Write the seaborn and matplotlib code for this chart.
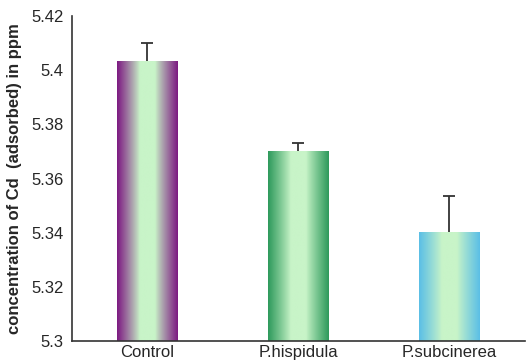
import numpy as np
import pandas as pd
import seaborn as sns
import matplotlib
matplotlib.use("Agg")
import matplotlib.pyplot as plt
from matplotlib.colors import LinearSegmentedColormap

# data
categories = ["Control", "P.hispidula", "P.subcinerea"]
means = [5.4034, 5.3702, 5.3404]
errors = [0.0066, 0.0030, 0.0131]
edge_colors = ["#7d1a82", "#2e9a5c", "#5bbfe6"]
center_color = "#c8f4c8"

sns.set_style("white")
plt.rcParams["font.family"] = ["Liberation Sans", "DejaVu Sans"]

df = pd.DataFrame({"sample": categories, "cd": means})

fig = plt.figure(figsize=(5.27, 3.63), dpi=100)
ax = fig.add_axes([0.1366, 0.0606, 0.8594, 0.8953])

sns.barplot(data=df, x="sample", y="cd", width=0.40, color="white",
            linewidth=0, ax=ax)

ax.set_ylim(5.3, 5.42)
ax.set_xlim(-0.5, 2.5)

# horizontal gradient fill for each bar
grad = np.linspace(0, 1, 256)
profile = np.clip(np.abs(grad - 0.5) * 2, 0, 1)
profile = np.clip((profile - 0.25) / 0.75, 0, 1) ** 0.9
for patch, edge in zip(ax.patches, edge_colors):
    cmap = LinearSegmentedColormap.from_list("g", [center_color, edge])
    x0, y0 = patch.get_x(), patch.get_y()
    w, h = patch.get_width(), patch.get_height()
    im = ax.imshow(profile[np.newaxis, :], cmap=cmap, aspect="auto",
                   extent=[x0, x0 + w, 5.3, y0 + h], origin="lower",
                   vmin=0, vmax=1, zorder=2)
    im.set_clip_path(patch)

# upper-only error bars
eb = ax.errorbar(range(len(categories)), means,
                 yerr=[np.zeros(len(errors)), errors],
                 fmt="none", ecolor="#333333", elinewidth=1.3, capsize=4,
                 capthick=1.3, zorder=3)
eb[1][0].set_visible(False)  # drop the lower caps

ax.set_yticks([5.3, 5.32, 5.34, 5.36, 5.38, 5.4, 5.42])
ax.set_yticklabels(["5.3", "5.32", "5.34", "5.36", "5.38", "5.4", "5.42"])
ax.set_xticks([0.5, 1.5], minor=True)
ax.tick_params(axis="x", which="major", length=0, labelsize=12, pad=3)
ax.tick_params(axis="x", which="minor", length=4, width=1, direction="out",
               color="#333333")
ax.tick_params(axis="y", length=4, width=1, direction="out", labelsize=12,
               color="#333333", pad=2)

ax.set_xlabel("")
ax.set_ylabel("concentration of Cd  (adsorbed) in ppm", fontsize=12,
              fontweight="bold", labelpad=7)

sns.despine(ax=ax)
for side in ["left", "bottom"]:
    ax.spines[side].set_color("#333333")
    ax.spines[side].set_linewidth(1.2)

fig.savefig("out.png", dpi=100)
